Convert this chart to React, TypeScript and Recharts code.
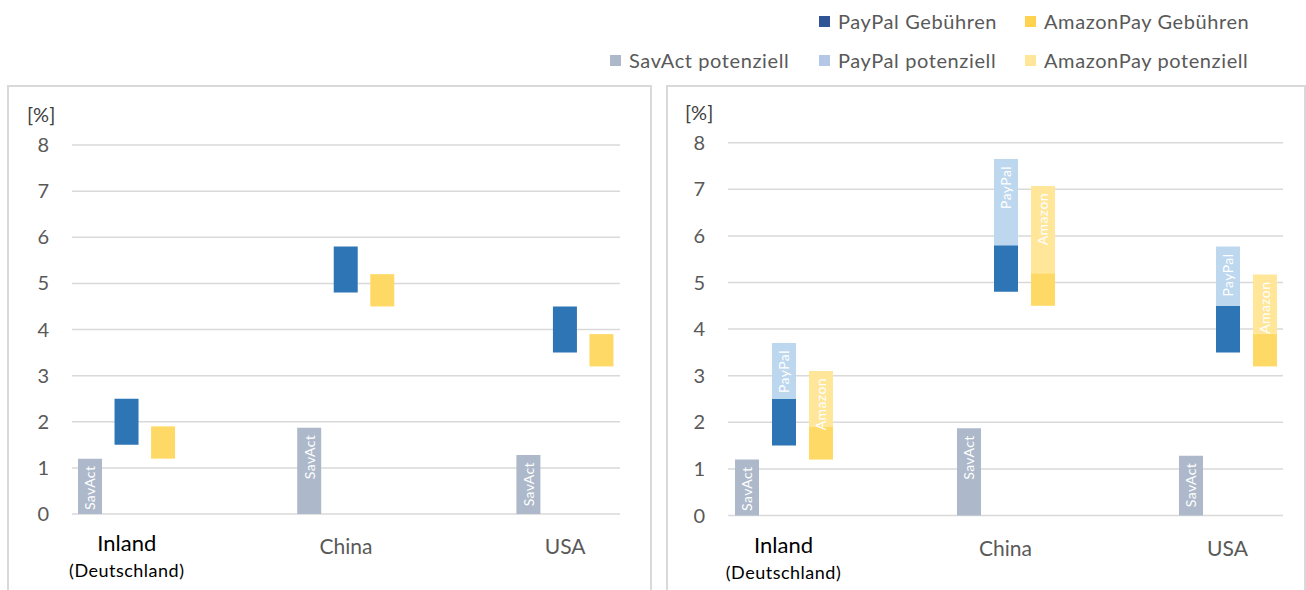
import { BarChart, Bar, XAxis, YAxis, CartesianGrid, Cell, LabelList } from "recharts";

const categories = ["Inland", "China", "USA"];
const categorySub = ["(Deutschland)", "", ""];
const savAct = [1.2, 1.87, 1.28];
const paypalFrom = [1.5, 4.8, 3.5];
const paypalTo = [2.5, 5.8, 4.5];
const paypalPotential = [1.2, 1.85, 1.27];
const amazonFrom = [1.2, 4.5, 3.2];
const amazonTo = [1.9, 5.2, 3.9];
const amazonPotential = [1.2, 1.87, 1.27];
const yTicks = [0, 1, 2, 3, 4, 5, 6, 7, 8];

const FONT = "Lato, 'Open Sans', sans-serif";
const SLOTS = 5;

// kind 0 = SavAct, 1 = PayPal, 2 = Amazon
const mainColors = ["#ADB9CA", "#2E75B6", "#FFD966"];
const potColors = ["#ADB9CA", "#BDD7EE", "#FFE699"];
const mainLabels = ["SavAct", "", ""];
const potLabels = ["", "PayPal", "Amazon"];

// each category shifts its three bars one slot to the right
const rows = categories.map((name, c) => {
  const row: any = { name, sub: categorySub[c] };
  for (let s = 0; s < SLOTS; s++) {
    const k = s - c;
    let base = 0, main = 0, pot = 0;
    if (k === 0) {
      main = savAct[c];
    } else if (k === 1) {
      base = paypalFrom[c];
      main = paypalTo[c] - paypalFrom[c];
      pot = paypalPotential[c];
    } else if (k === 2) {
      base = amazonFrom[c];
      main = amazonTo[c] - amazonFrom[c];
      pot = amazonPotential[c];
    }
    row[`k${s}`] = k >= 0 && k <= 2 ? k : -1;
    row[`b${s}`] = base;
    row[`m${s}`] = main;
    row[`p${s}`] = pot;
  }
  return row;
});

const labelText = (s: number, texts: string[]) => (r: any) => {
  const k = r[`k${s}`];
  return k >= 0 ? texts[k] : "";
};

const renderBarLabel = (props: any) => {
  const { x, y, width, height, value } = props;
  if (!value || !height || height <= 0) return null;
  const cx = x + width / 2;
  const ty = y + 7;
  return (
    <text
      x={cx}
      y={ty}
      transform={`rotate(-90 ${cx} ${ty})`}
      textAnchor="end"
      dominantBaseline="central"
      fill="#ffffff"
      fontSize={14}
      letterSpacing={0.4}
      fontFamily={FONT}
    >
      {value}
    </text>
  );
};

type PanelProps = {
  left: number;
  width: number;
  margin: { top: number; right: number; left: number; bottom: number };
  potential: boolean;
};

function Panel({ left, width, margin, potential }: PanelProps) {
  const plotWidth = width - margin.left - margin.right - 40;
  const slot = plotWidth / categories.length / SLOTS;

  const renderTick = (props: any) => {
    const { x, y, payload, index } = props;
    const tx = x + (index - 1) * slot;
    const sub = rows[index].sub;
    return (
      <g>
        <text
          x={tx}
          y={y + (sub ? 37 : 40)}
          textAnchor="middle"
          fontSize={sub ? 22 : 21}
          fill={sub ? "#000000" : "#595959"}
          fontFamily={FONT}
        >
          {payload.value}
        </text>
        {sub && (
          <text
            x={tx}
            y={y + 63}
            textAnchor="middle"
            fontSize={18}
            letterSpacing={0.5}
            fill="#000000"
            fontFamily={FONT}
          >
            {sub}
          </text>
        )}
      </g>
    );
  };

  return (
    <div style={{ position: "absolute", left, top: 0 }}>
      <BarChart
        width={width}
        height={590}
        data={rows}
        margin={margin}
        barSize={24}
        barGap={slot - 24}
      >
        <CartesianGrid vertical={false} stroke="#d9d9d9" strokeWidth={1.5} />
        <XAxis
          dataKey="name"
          axisLine={false}
          tickLine={false}
          tickSize={0}
          tickMargin={0}
          height={30}
          interval={0}
          tick={renderTick}
        />
        <YAxis
          domain={[0, 8]}
          ticks={yTicks}
          axisLine={false}
          tickLine={false}
          tickSize={0}
          tickMargin={23}
          width={40}
          tick={{ fill: "#595959", fontSize: 20, fontFamily: FONT }}
        />
        {Array.from({ length: SLOTS }).flatMap((_, s) => {
          const bars = [
            <Bar
              key={`b${s}`}
              dataKey={`b${s}`}
              stackId={`s${s}`}
              fill="transparent"
              isAnimationActive={false}
            />,
            <Bar key={`m${s}`} dataKey={`m${s}`} stackId={`s${s}`} isAnimationActive={false}>
              {rows.map((r, i) => (
                <Cell key={i} fill={r[`k${s}`] >= 0 ? mainColors[r[`k${s}`]] : "transparent"} />
              ))}
              <LabelList dataKey={labelText(s, mainLabels)} content={renderBarLabel} />
            </Bar>,
          ];
          if (potential) {
            bars.push(
              <Bar key={`p${s}`} dataKey={`p${s}`} stackId={`s${s}`} isAnimationActive={false}>
                {rows.map((r, i) => (
                  <Cell key={i} fill={r[`k${s}`] >= 0 ? potColors[r[`k${s}`]] : "transparent"} />
                ))}
                <LabelList dataKey={labelText(s, potLabels)} content={renderBarLabel} />
              </Bar>
            );
          }
          return bars;
        })}
      </BarChart>
    </div>
  );
}

const legendItems = [
  { label: "PayPal Gebühren", color: "#2F5597", x: 819, y: 21 },
  { label: "AmazonPay Gebühren", color: "#FFD34F", x: 1025, y: 21 },
  { label: "SavAct potenziell", color: "#ADB9CA", x: 610, y: 60 },
  { label: "PayPal potenziell", color: "#B4C7E7", x: 819, y: 60 },
  { label: "AmazonPay potenziell", color: "#FFE699", x: 1025, y: 60 },
];

export default function App() {
  return (
    <div
      style={{
        position: "absolute",
        left: 0,
        top: 0,
        width: 1306,
        height: 590,
        overflow: "hidden",
        background: "#fff",
        fontFamily: FONT,
      }}
    >
      {legendItems.map((it) => (
        <div
          key={it.label}
          style={{
            position: "absolute",
            left: it.x,
            top: it.y - 12,
            height: 24,
            display: "flex",
            alignItems: "center",
            whiteSpace: "nowrap",
            color: "#595959",
            fontSize: 20,
            letterSpacing: 0.6,
          }}
        >
          <span style={{ width: 11, height: 11, background: it.color, marginRight: 8 }} />
          {it.label}
        </div>
      ))}
      <div
        style={{
          position: "absolute",
          left: 7,
          top: 85,
          width: 645,
          height: 520,
          border: "2px solid #d9d9d9",
          boxSizing: "border-box",
        }}
      />
      <div
        style={{
          position: "absolute",
          left: 666,
          top: 85,
          width: 640,
          height: 520,
          border: "2px solid #d9d9d9",
          boxSizing: "border-box",
        }}
      />
      <div style={{ position: "absolute", left: 27, top: 102, fontSize: 20, color: "#404040" }}>[%]</div>
      <div style={{ position: "absolute", left: 685, top: 100, fontSize: 20, color: "#404040" }}>[%]</div>
      <Panel left={0} width={660} margin={{ top: 145, right: 40, left: 32, bottom: 46 }} potential={false} />
      <Panel left={660} width={646} margin={{ top: 142.7, right: 23, left: 28, bottom: 44.5 }} potential={true} />
    </div>
  );
}
